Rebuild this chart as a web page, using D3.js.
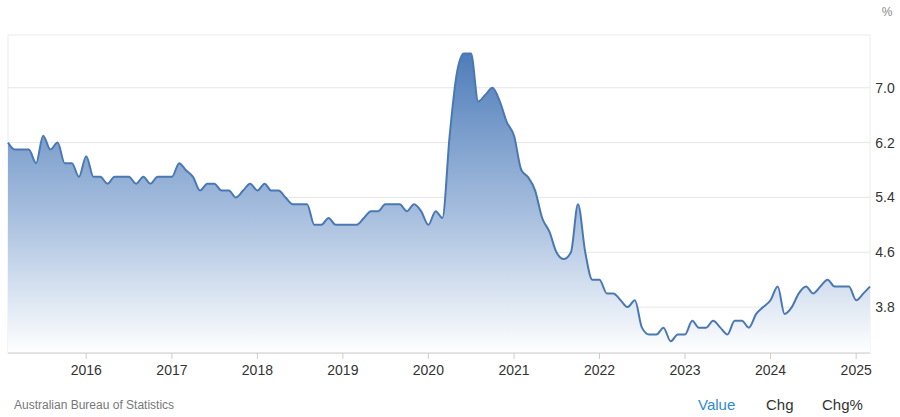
<!DOCTYPE html>
<html><head><meta charset="utf-8">
<script src="https://cdn.jsdelivr.net/npm/d3@7"></script>
<style>body{margin:0;background:#fff;font-family:Arial,"Liberation Sans",sans-serif}</style>
</head><body>
<script>
// monthly unemployment rate, Feb 2015 .. Jan 2025
var startYear = 2015, startMonth = 1;
var values = [
  6.2,6.1,6.1,6.1,5.9,6.3,6.1,6.2,5.9,5.9,5.7,
  6.0,5.7,5.7,5.6,5.7,5.7,5.7,5.6,5.7,5.6,5.7,5.7,
  5.7,5.9,5.8,5.7,5.5,5.6,5.6,5.5,5.5,5.4,5.5,5.6,
  5.5,5.6,5.5,5.5,5.4,5.3,5.3,5.3,5.0,5.0,5.1,5.0,
  5.0,5.0,5.0,5.1,5.2,5.2,5.3,5.3,5.3,5.2,5.3,5.2,
  5.0,5.2,5.1,6.3,7.2,7.5,7.5,6.8,6.9,7.0,6.8,6.5,
  6.3,5.8,5.7,5.5,5.1,4.9,4.6,4.5,4.6,5.3,4.6,4.2,
  4.2,4.0,4.0,3.9,3.8,3.9,3.5,3.4,3.4,3.5,3.3,3.4,
  3.4,3.6,3.5,3.5,3.6,3.5,3.4,3.6,3.6,3.5,3.7,3.8,
  3.9,4.1,3.7,3.8,4.0,4.1,4.0,4.1,4.2,4.1,4.1,4.1,3.9,
  4.0,4.1
];
var yTicks = [3.8,4.6,5.4,6.2,7.0];
var xTickYears = [2016,2017,2018,2019,2020,2021,2022,2023,2024,2025];

var data = values.map(function(v,i){ return {date:new Date(startYear, startMonth+i, 1), value:v}; });

var W = 900, H = 417;
var plot = {left:8, right:870, top:35, bottom:353};

var svg = d3.select("body").append("svg").attr("width",W).attr("height",H);

var x = d3.scaleTime()
    .domain([data[0].date, data[data.length-1].date])
    .range([plot.left, plot.right]);
var y = d3.scaleLinear().domain([3.13,7.77]).range([plot.bottom, plot.top]);

var defs = svg.append("defs");
var grad = defs.append("linearGradient").attr("id","fillGrad")
    .attr("x1",0).attr("y1",0).attr("x2",0).attr("y2",1)
    .attr("gradientUnits","userSpaceOnUse")
    .attr("x1",0).attr("y1",y(7.5)).attr("x2",0).attr("y2",plot.bottom);
grad.append("stop").attr("offset","0%").attr("stop-color","#4f7dba");
grad.append("stop").attr("offset","55%").attr("stop-color","#a9c0df");
grad.append("stop").attr("offset","100%").attr("stop-color","#ffffff");

// plot frame + grid
svg.append("rect").attr("x",plot.left).attr("y",plot.top)
    .attr("width",plot.right-plot.left).attr("height",plot.bottom-plot.top)
    .attr("fill","none").attr("stroke","#ececec");
svg.selectAll(".grid").data(yTicks).enter().append("line")
    .attr("x1",plot.left).attr("x2",plot.right)
    .attr("y1",function(d){return y(d);}).attr("y2",function(d){return y(d);})
    .attr("stroke","#e6e6e6");

var area = d3.area().curve(d3.curveMonotoneX)
    .x(function(d){return x(d.date);}).y0(plot.bottom).y1(function(d){return y(d.value);});
var line = d3.line().curve(d3.curveMonotoneX)
    .x(function(d){return x(d.date);}).y(function(d){return y(d.value);});

svg.append("path").datum(data).attr("d",area).attr("fill","url(#fillGrad)");
svg.append("path").datum(data).attr("d",line).attr("fill","none")
    .attr("stroke","#4a78b3").attr("stroke-width",2);

// bottom axis
svg.append("line").attr("x1",plot.left).attr("x2",plot.right)
    .attr("y1",plot.bottom).attr("y2",plot.bottom).attr("stroke","#ccc");
var xt = svg.selectAll(".xt").data(xTickYears).enter().append("g")
    .attr("transform",function(d){return "translate("+x(new Date(d,0,1))+","+plot.bottom+")";});
xt.append("line").attr("y2",6).attr("stroke","#ccc");
xt.append("text").attr("y",22).attr("text-anchor","middle")
    .attr("font-size",14).attr("fill","#333").text(function(d){return d;});

// right axis labels
svg.selectAll(".yt").data(yTicks).enter().append("text")
    .attr("x",885).attr("y",function(d){return y(d)+5;})
    .attr("text-anchor","middle").attr("font-size",14).attr("fill","#333")
    .text(function(d){return d.toFixed(1);});
svg.append("text").attr("x",887).attr("y",16).attr("text-anchor","middle")
    .attr("font-size",12).attr("fill","#888").text("%");

svg.append("text").attr("x",14).attr("y",409).attr("font-size",12)
    .attr("fill","#777").text("Australian Bureau of Statistics");
svg.append("text").attr("x",698).attr("y",410).attr("font-size",15)
    .attr("fill","#2e8bd0").text("Value");
svg.append("text").attr("x",766).attr("y",410).attr("font-size",15)
    .attr("fill","#333").text("Chg");
svg.append("text").attr("x",822).attr("y",410).attr("font-size",15)
    .attr("fill","#333").text("Chg%");
</script>
</body></html>
